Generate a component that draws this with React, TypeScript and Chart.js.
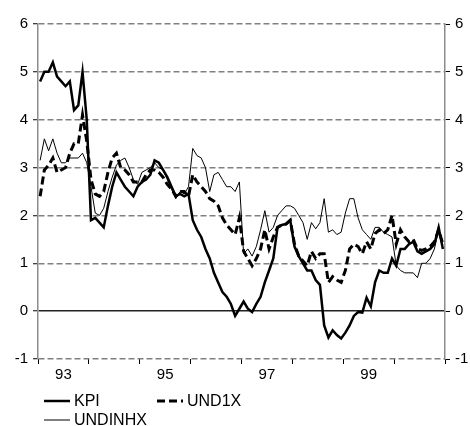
import { useEffect, useRef } from "react";
import { Chart, registerables } from "chart.js";

Chart.register(...registerables);

// Monthly data, Jan 1993 .. Dec 2000
const KPI = [
  4.8, 5.0, 5.0, 5.2, 4.9, 4.8, 4.7, 4.8, 4.2, 4.3, 5.0, 4.0,
  1.9, 1.95, 1.85, 1.75, 2.2, 2.6, 2.9, 2.75, 2.6, 2.5, 2.4, 2.6,
  2.7, 2.75, 2.85, 3.15, 3.1, 2.95, 2.8, 2.6, 2.4, 2.45, 2.4, 2.45,
  1.9, 1.7, 1.55, 1.3, 1.1, 0.8, 0.6, 0.4, 0.3, 0.15, -0.1, 0.05,
  0.2, 0.05, -0.02, 0.15, 0.3, 0.6, 0.85, 1.1, 1.75, 1.8, 1.82, 1.9,
  1.35, 1.15, 1.0, 0.85, 0.85, 0.65, 0.55, -0.3, -0.55, -0.4, -0.5, -0.57,
  -0.45, -0.3, -0.1, -0.02, -0.03, 0.28, 0.1, 0.6, 0.85, 0.8, 0.8, 1.1,
  0.95, 1.3, 1.3, 1.4, 1.45, 1.25, 1.2, 1.25, 1.3, 1.4, 1.75, 1.3,
];

const UND1X = [
  2.4, 2.95, 3.05, 3.2, 2.9, 2.95, 3.0, 3.3, 3.5, 3.5, 4.1, 3.55,
  2.75, 2.45, 2.4, 2.5, 2.9, 3.2, 3.3, 3.0, 2.95, 2.85, 2.7, 2.7,
  2.7, 2.85, 2.95, 2.95, 2.9, 2.8, 2.65, 2.55, 2.4, 2.5, 2.5, 2.4,
  2.85, 2.7, 2.6, 2.5, 2.35, 2.3, 2.2, 1.95, 1.8, 1.7, 1.6, 1.95,
  1.25, 1.1, 0.95, 1.1, 1.3, 1.7, 1.3, 1.55, 1.75, 1.8, 1.82, 1.9,
  1.4, 1.15, 1.05, 0.95, 1.25, 1.1, 1.2, 1.2, 0.6, 0.72, 0.65, 0.6,
  0.85, 1.3, 1.4, 1.35, 1.2, 1.45, 1.3, 1.62, 1.7, 1.62, 1.7, 2.0,
  1.4, 1.7, 1.55, 1.45, 1.5, 1.3, 1.27, 1.3, 1.35, 1.45, 1.7, 1.4,
];

const UNDINHX = [
  3.15, 3.6, 3.35, 3.6, 3.3, 3.1, 3.1, 3.2, 3.2, 3.2, 3.3, 3.1,
  2.6, 2.05, 2.0, 2.15, 2.5, 2.8, 3.05, 3.15, 3.2, 3.0, 2.75, 2.65,
  2.9, 2.95, 3.0, 3.1, 3.0, 2.95, 2.75, 2.55, 2.35, 2.5, 2.45, 2.6,
  3.4, 3.25, 3.2, 3.0, 2.5, 2.85, 2.9, 2.75, 2.6, 2.6, 2.5, 2.7,
  1.2, 1.3, 1.15, 1.35, 1.7, 2.1, 1.65, 1.75, 2.0, 2.1, 2.2, 2.2,
  2.15, 2.0, 1.85, 1.5, 1.85, 1.72, 1.85, 2.35, 1.65, 1.7, 1.6, 1.65,
  2.05, 2.35, 2.35, 1.95, 1.7, 1.6, 1.5, 1.75, 1.75, 1.65, 1.6, 1.55,
  0.95, 0.85, 0.8, 0.8, 0.8, 0.7, 1.0, 1.0, 1.1, 1.3, 1.7, 1.45,
];

// One label per year (1993..2000); only odd years are shown in the original
const YEAR_LABELS = ["93", "", "95", "", "97", "", "99", ""];
const Y_MIN = -1;
const Y_MAX = 6;

const FONT = '"Liberation Sans", Arial, sans-serif';

const toPoints = (arr: number[]) => arr.map((v, i) => ({ x: i + 0.5, y: v }));

const legendPlugin = {
  id: "customLegend",
  afterDraw(chart: any) {
    const c = chart.ctx as CanvasRenderingContext2D;
    const slots = [
      { x: 44, y: 401 },
      { x: 157, y: 401 },
      { x: 44, y: 420 },
    ];
    c.save();
    c.font = `16px ${FONT}`;
    c.fillStyle = "#000";
    c.textBaseline = "middle";
    chart.data.datasets.forEach((ds: any, i: number) => {
      const s = slots[i];
      if (!s) return;
      c.beginPath();
      c.strokeStyle = "#000";
      c.lineWidth = ds.borderWidth;
      c.setLineDash(ds.borderDash || []);
      c.moveTo(s.x, s.y);
      c.lineTo(s.x + 26, s.y);
      c.stroke();
      c.setLineDash([]);
      c.fillText(ds.label, s.x + 30, s.y + 1);
    });
    c.restore();
  },
};

export default function App() {
  const ref = useRef<HTMLCanvasElement>(null);
  useEffect(() => {
    if (!ref.current) return;
    const chart = new Chart(ref.current, {
      type: "line",
      data: {
        datasets: [
          {
            label: "KPI",
            data: toPoints(KPI),
            borderColor: "#000",
            borderWidth: 2.5,
            pointRadius: 0,
            tension: 0,
            fill: false,
          },
          {
            label: "UND1X",
            data: toPoints(UND1X),
            borderColor: "#000",
            borderWidth: 3,
            borderDash: [8, 4],
            pointRadius: 0,
            tension: 0,
            fill: false,
          },
          {
            label: "UNDINHX",
            data: toPoints(UNDINHX),
            borderColor: "#000",
            borderWidth: 1,
            pointRadius: 0,
            tension: 0,
            fill: false,
          },
        ],
      },
      options: {
        responsive: false,
        animation: false,
        events: [],
        layout: { padding: { top: 24, left: 0, right: 0, bottom: 0 } },
        plugins: { legend: { display: false }, tooltip: { enabled: false } },
        scales: {
          x: {
            type: "linear",
            min: 0,
            max: YEAR_LABELS.length * 12,
            afterFit: (s: any) => {
              s.height = 67;
            },
            border: { display: false },
            grid: {
              drawOnChartArea: false,
              drawTicks: true,
              tickLength: 5,
              tickWidth: 1,
              tickColor: (ctx: any) =>
                ctx.tick && ctx.tick.value % 12 === 0 ? "#000" : "rgba(0,0,0,0)",
            },
            ticks: {
              stepSize: 6,
              autoSkip: false,
              maxRotation: 0,
              padding: 2,
              color: "#000",
              font: { family: FONT, size: 15 },
              callback: (v: any) => {
                const n = Number(v);
                if (n % 12 !== 6) return "";
                return YEAR_LABELS[(n - 6) / 12] ?? "";
              },
            },
          },
          y: {
            position: "left",
            min: Y_MIN,
            max: Y_MAX,
            afterFit: (s: any) => {
              s.width = 38;
            },
            border: {
              display: true,
              color: "#8c8c8c",
              width: 1.5,
              dash: (ctx: any) => (ctx.tick && ctx.tick.value === 0 ? [] : [6, 3]),
            },
            grid: {
              color: (ctx: any) => (ctx.tick && ctx.tick.value === 0 ? "#222" : "#808080"),
              lineWidth: 1.5,
              tickColor: "#000",
              tickLength: 5,
              tickWidth: 1,
            },
            ticks: {
              stepSize: 1,
              padding: 5,
              color: "#000",
              font: { family: FONT, size: 15 },
            },
          },
          y2: {
            position: "right",
            min: Y_MIN,
            max: Y_MAX,
            afterFit: (s: any) => {
              s.width = 25;
            },
            border: { display: true, color: "#8c8c8c", width: 1.5 },
            grid: {
              drawOnChartArea: false,
              tickColor: "#000",
              tickLength: 5,
              tickWidth: 1,
            },
            ticks: {
              stepSize: 1,
              padding: 5,
              color: "#000",
              font: { family: FONT, size: 15 },
            },
          },
        },
      } as any,
      plugins: [legendPlugin],
    });
    return () => chart.destroy();
  }, []);
  return (
    <div style={{ position: "absolute", left: 0, top: 0, width: 470, height: 426, background: "#fff" }}>
      <canvas ref={ref} width={470} height={426} />
    </div>
  );
}
